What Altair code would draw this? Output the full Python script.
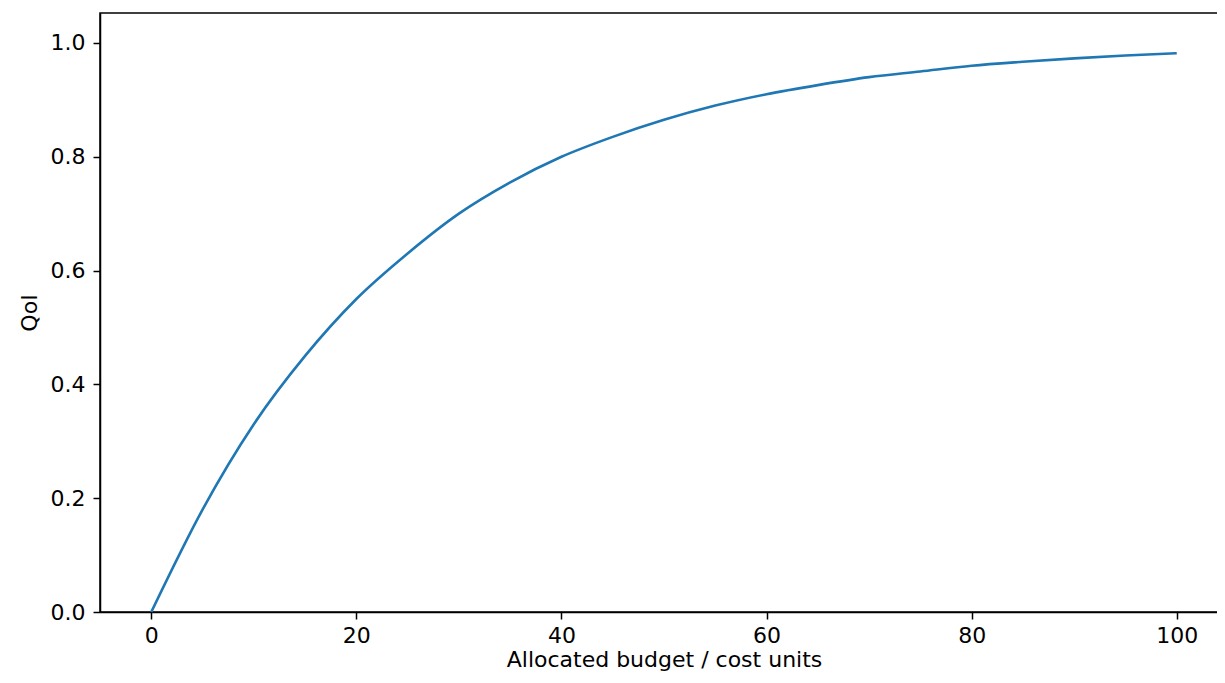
import altair as alt
import pandas as pd

# Values
budget = [0, 5, 10, 15, 20, 25, 30, 35, 40, 45, 50, 55, 60, 65, 70, 75, 80, 85, 90, 95, 100]
qoi = [0.0, 0.18, 0.33, 0.45, 0.55, 0.63, 0.70, 0.755, 0.80, 0.835, 0.865, 0.89, 0.91,
       0.926, 0.94, 0.95, 0.96, 0.967, 0.973, 0.978, 0.982]
x_ticks = [0, 20, 40, 60, 80, 100]
y_ticks = [0.0, 0.2, 0.4, 0.6, 0.8, 1.0]

df = pd.DataFrame({"budget": budget, "qoi": qoi})

FONT = "DejaVu Sans"

chart = (
    alt.Chart(df)
    .mark_line(color="#1f77b4", strokeWidth=2.6, interpolate="monotone")
    .encode(
        x=alt.X(
            "budget:Q",
            title="Allocated budget / cost units",
            scale=alt.Scale(domain=[-5, 105], nice=False, zero=False),
            axis=alt.Axis(values=x_ticks, format="d", titlePadding=3, labelPadding=6),
        ),
        y=alt.Y(
            "qoi:Q",
            title="QoI",
            scale=alt.Scale(domain=[0, 1.0527], nice=False),
            axis=alt.Axis(values=y_ticks, format=".1f", titlePadding=9, labelPadding=8),
        ),
    )
    .properties(
        width=1128,
        height=599,
        autosize=alt.AutoSizeParams(type="none"),
        padding={"left": 92, "top": 5, "right": -11, "bottom": 63},
    )
    .configure_view(stroke="black", strokeWidth=1.5)
    .configure_axis(
        grid=False,
        domainColor="black",
        domainWidth=1.5,
        tickColor="black",
        tickWidth=1.5,
        tickSize=7,
        labelColor="black",
        titleColor="black",
        labelFont=FONT,
        titleFont=FONT,
        labelFontSize=22,
        titleFontSize=22,
        titleFontWeight="normal",
    )
)

chart.save("out.html", embed_options={"renderer": "svg", "actions": False})
